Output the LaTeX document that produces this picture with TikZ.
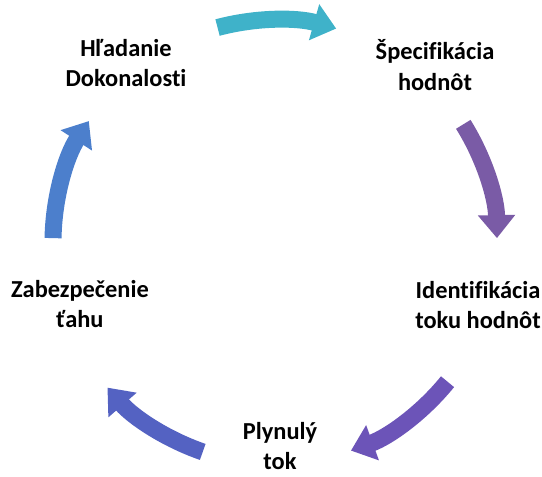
\documentclass[tikz,border=0pt]{standalone}
\usepackage{fontspec}
\setmainfont[Ligatures=CommonOff]{Carlito}
\usetikzlibrary{arrows.meta}
\definecolor{cA}{HTML}{3FB2C9}
\definecolor{cB}{HTML}{7A5BA6}
\definecolor{cC}{HTML}{6C54B8}
\definecolor{cD}{HTML}{5462C2}
\definecolor{cE}{HTML}{4C7FCC}
\tikzset{
  lbl/.style={align=center, font=\fontsize{24.5}{31}\selectfont\bfseries, inner sep=0pt},
  cyclearrow/.style={line width=17bp, -{Triangle[width=36bp,length=23bp]}}
}
\begin{document}
\begin{tikzpicture}[x=1bp,y=1bp]
\useasboundingbox (0,0) rectangle (542,477);
\coordinate (C) at (275,235);
\def\R{222}
\node[lbl] (hl) at (126,414) {Hľadanie\\Dokonalosti};
\node[lbl] (sp) at (435,412) {Špecifikácia\\hodnôt};
\node[lbl] (id) at (478,172) {Identifikácia\\toku hodnôt};
\node[lbl] (pl) at (280,31) {Plynulý\\tok};
\node[lbl] (za) at (80,173) {Zabezpečenie\\ťahu};
\draw[cyclearrow, cA] ([shift={(105:\R)}]C) arc[start angle=105, end angle=74, radius=\R];
\draw[cyclearrow, cB] ([shift={(32:\R)}]C) arc[start angle=32, end angle=1, radius=\R];
\draw[cyclearrow, cC] ([shift={(-39:\R)}]C) arc[start angle=-39, end angle=-70, radius=\R];
\draw[cyclearrow, cD] ([shift={(-109:\R)}]C) arc[start angle=-109, end angle=-139, radius=\R];
\draw[cyclearrow, cE] ([shift={(179:\R)}]C) arc[start angle=179, end angle=147, radius=\R];
\end{tikzpicture}
\end{document}
